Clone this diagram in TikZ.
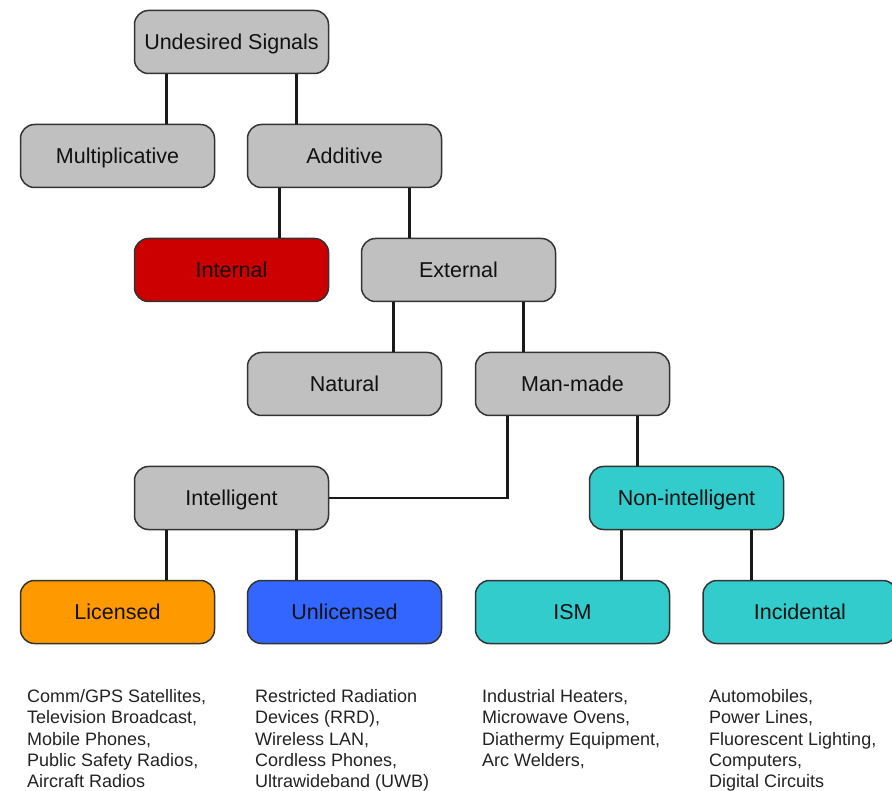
\documentclass[tikz,border=0pt]{standalone}
\usepackage{fontspec}
\setmainfont{Liberation Sans}
\usetikzlibrary{calc}
\definecolor{boxgrey}{HTML}{C0C0C0}
\definecolor{boxred}{HTML}{CC0000}
\definecolor{boxorange}{HTML}{FF9900}
\definecolor{boxblue}{HTML}{3366FF}
\definecolor{boxteal}{HTML}{33CCCC}
\definecolor{edge}{HTML}{333333}
\definecolor{txt}{HTML}{111111}
\definecolor{listtxt}{HTML}{222222}
\begin{document}
\begin{tikzpicture}[x=1pt,y=-1pt,
  box/.style={draw=edge, line width=1.5pt, rounded corners=14pt, fill=boxgrey,
    minimum width=194pt, minimum height=63pt, inner sep=0pt,
    text height=15.5pt, text depth=0pt, text=txt,
    font=\fontsize{21.5}{25}\selectfont},
  conn/.style={draw=black!90, line width=2.2pt},
  listtext/.style={anchor=north west, inner sep=0pt, align=left, text=listtxt,
    font=\fontsize{18}{21.4}\selectfont}]
\useasboundingbox (0,0) rectangle (892,791);
% boxes
\node[box] (us) at (231.5,42) {Undesired Signals};
\node[box] (mult) at (117.5,156) {Multiplicative};
\node[box] (add) at (344.5,156) {Additive};
\node[box, fill=boxred] (int) at (231.5,270) {Internal};
\node[box] (ext) at (458.5,270) {External};
\node[box] (nat) at (344.5,384) {Natural};
\node[box] (mm) at (572.5,384) {Man-made};
\node[box] (intel) at (231.5,498) {Intelligent};
\node[box, fill=boxteal] (nonint) at (686.5,498) {Non-intelligent};
\node[box, fill=boxorange] (lic) at (117.5,612) {Licensed};
\node[box, fill=boxblue] (unlic) at (344.5,612) {Unlicensed};
\node[box, fill=boxteal] (ism) at (572.5,612) {ISM};
\node[box, fill=boxteal] (inc) at (800,612) {Incidental};
% connector start points
\coordinate (us1) at ($(us.south)+(-65,0)$);
\coordinate (us2) at ($(us.south)+(65,0)$);
\coordinate (add1) at ($(add.south)+(-65,0)$);
\coordinate (add2) at ($(add.south)+(65,0)$);
\coordinate (ext1) at ($(ext.south)+(-65,0)$);
\coordinate (ext2) at ($(ext.south)+(65,0)$);
\coordinate (mm1) at ($(mm.south)+(-65,0)$);
\coordinate (mm2) at ($(mm.south)+(65,0)$);
\coordinate (in1) at ($(intel.south)+(-65,0)$);
\coordinate (in2) at ($(intel.south)+(65,0)$);
\coordinate (ni1) at ($(nonint.south)+(-65,0)$);
\coordinate (ni2) at ($(nonint.south)+(65,0)$);
% connectors
\draw[conn] (us1) -- (us1 |- mult.north);
\draw[conn] (us2) -- (us2 |- add.north);
\draw[conn] (add1) -- (add1 |- int.north);
\draw[conn] (add2) -- (add2 |- ext.north);
\draw[conn] (ext1) -- (ext1 |- nat.north);
\draw[conn] (ext2) -- (ext2 |- mm.north);
\draw[conn] (mm1) |- (intel.east);
\draw[conn] (mm2) -- (mm2 |- nonint.north);
\draw[conn] (in1) -- (in1 |- lic.north);
\draw[conn] (in2) -- (in2 |- unlic.north);
\draw[conn] (ni1) -- (ni1 |- ism.north);
\draw[conn] (ni2) -- (ni2 |- inc.north);
% lists
\node[listtext] (l1) at (27,689) {Comm/GPS Satellites,\\Television Broadcast,\\Mobile Phones,\\Public Safety Radios,\\Aircraft Radios};
\node[listtext] (l2) at (255,689) {Restricted Radiation\\Devices (RRD),\\Wireless LAN,\\Cordless Phones,\\Ultrawideband (UWB)};
\node[listtext] (l3) at (482,689) {Industrial Heaters,\\Microwave Ovens,\\Diathermy Equipment,\\Arc Welders,};
\node[listtext] (l4) at (709,689) {Automobiles,\\Power Lines,\\Fluorescent Lighting,\\Computers,\\Digital Circuits};
\end{tikzpicture}
\end{document}
